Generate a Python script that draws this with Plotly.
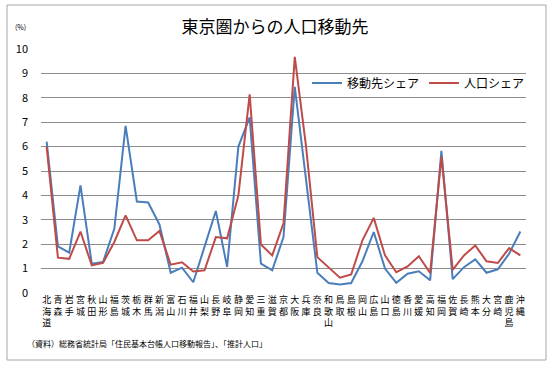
import plotly.graph_objects as go

prefectures = ["北海道", "青森", "岩手", "宮城", "秋田", "山形", "福島", "茨城", "栃木", "群馬",
               "新潟", "富山", "石川", "福井", "山梨", "長野", "岐阜", "静岡", "愛知", "三重",
               "滋賀", "京都", "大阪", "兵庫", "奈良", "和歌山", "鳥取", "島根", "岡山", "広島",
               "山口", "徳島", "香川", "愛媛", "高知", "福岡", "佐賀", "長崎", "熊本", "大分",
               "宮崎", "鹿児島", "沖縄"]

move_share = [6.2, 1.91, 1.65, 4.41, 1.2, 1.27, 2.63, 6.85, 3.75, 3.71,
              2.81, 0.83, 1.04, 0.44, 1.9, 3.36, 1.07, 6.0, 7.2, 1.2,
              0.93, 2.29, 8.45, 4.6, 0.83, 0.41, 0.35, 0.41, 1.3, 2.5,
              1.0, 0.42, 0.79, 0.89, 0.52, 5.83, 0.57, 1.06, 1.38, 0.83,
              0.97, 1.61, 2.52]

pop_share = [6.0, 1.45, 1.40, 2.52, 1.13, 1.23, 2.09, 3.18, 2.16, 2.16,
             2.54, 1.16, 1.26, 0.88, 0.93, 2.29, 2.24, 4.0, 8.14, 1.99,
             1.54, 2.86, 9.68, 6.0, 1.47, 1.06, 0.63, 0.76, 2.16, 3.08,
             1.54, 0.85, 1.09, 1.51, 0.82, 5.6, 0.95, 1.54, 1.95, 1.3,
             1.23, 1.84, 1.54]

y_ticks = [0, 1, 2, 3, 4, 5, 6, 7, 8, 9, 10]

tick_text = ["<br>".join(list(p)) for p in prefectures]

FONT = "Noto Sans CJK JP"
W, H = 557, 370

fig = go.Figure()
fig.add_trace(go.Scatter(x=prefectures, y=move_share, mode="lines", name="移動先シェア",
                         line=dict(color="#4A7EBB", width=2)))
fig.add_trace(go.Scatter(x=prefectures, y=pop_share, mode="lines", name="人口シェア",
                         line=dict(color="#BE4B48", width=2)))

fig.update_layout(
    width=W, height=H,
    margin=dict(l=41, r=31, t=49, b=77, autoexpand=False),
    paper_bgcolor="white", plot_bgcolor="white",
    font=dict(family=FONT, color="black"),
    title=dict(text="東京圏からの人口移動先", x=275 / W, xanchor="center",
               y=1 - 27 / H, yanchor="middle", yref="container", xref="container",
               font=dict(family=FONT, size=17, color="black")),
    showlegend=True,
    legend=dict(orientation="h", xref="container", yref="container",
                x=307 / W, xanchor="left", y=1 - 83 / H, yanchor="middle",
                font=dict(family=FONT, size=12, color="black"),
                bgcolor="rgba(0,0,0,0)", itemwidth=30, tracegroupgap=0),
    xaxis=dict(tickmode="array", tickvals=prefectures, ticktext=tick_text,
               tickfont=dict(family=FONT, size=9, color="black"),
               showgrid=False, showline=False, ticks="", tickangle=0, automargin=False,
               range=[-0.5, len(prefectures) - 0.5]),
    yaxis=dict(range=[0, 10], tickvals=y_ticks, showgrid=True, gridcolor="#8c8c8c",
               gridwidth=1, zeroline=False, showline=False, ticks="", automargin=False,
               tickfont=dict(family=FONT, size=11, color="black"),
               ticklabelstandoff=12),
    shapes=[dict(type="rect", xref="paper", yref="paper",
                 x0=(7 - 41) / 485, x1=(546 - 41) / 485,
                 y0=(293 - 360) / 244, y1=(293 - 5) / 244,
                 line=dict(color="#a6a6a6", width=1), fillcolor="rgba(0,0,0,0)",
                 layer="below")],
    annotations=[
        dict(text="(%)", xref="paper", yref="paper", x=(20 - 41) / 485, y=(293 - 27) / 244,
             xanchor="center", yanchor="middle", showarrow=False,
             font=dict(family=FONT, size=7, color="black")),
        dict(text="（資料）総務省統計局「住民基本台帳人口移動報告」、「推計人口」",
             xref="paper", yref="paper", x=(25 - 41) / 485, y=(293 - 343) / 244,
             xanchor="left", yanchor="middle", showarrow=False,
             font=dict(family=FONT, size=8, color="black")),
    ],
)

fig.write_html("out.html", config={"displayModeBar": False},
               post_script="document.body.style.margin='0';document.body.style.overflow='hidden';")
